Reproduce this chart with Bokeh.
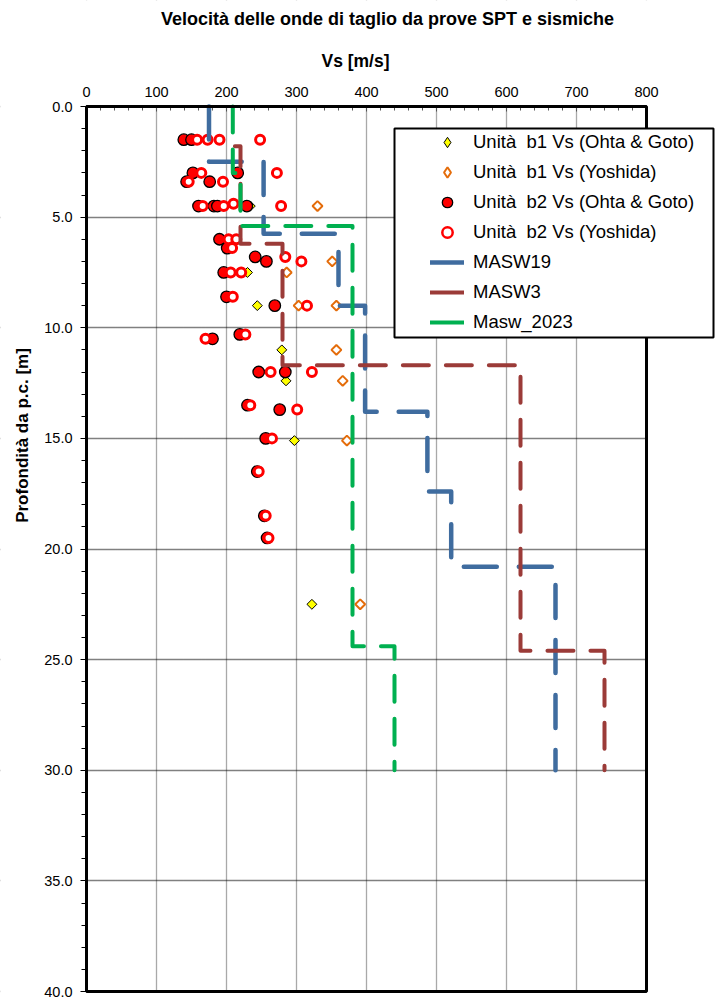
import math
from bokeh.plotting import figure
from bokeh.models import (Range1d, FixedTicker, Legend, LegendItem, Label,
                          BoxAnnotation, NumeralTickFormatter)
from bokeh.embed import file_html
from bokeh.resources import INLINE

# ---------------- data (Vs in m/s, depth in m) ----------------
b1_ohta_vs = [234, 230, 244, 279, 285, 297, 322]
b1_ohta_z = [4.5, 7.5, 9.0, 11.0, 12.4, 15.1, 22.5]

b1_yosh_vs = [330, 351, 286, 357, 303, 357, 366, 372, 391]
b1_yosh_z = [4.5, 7.0, 7.5, 9.0, 9.0, 11.0, 12.4, 15.1, 22.5]

b2_ohta_vs = [139, 150, 152, 216, 143, 176, 160, 182, 187, 229, 190, 201, 241,
              257, 196, 200, 269, 219, 180, 246, 284, 230, 276, 256, 244, 254, 258]
b2_ohta_z = [1.5, 1.5, 3.0, 3.0, 3.4, 3.4, 4.5, 4.5, 4.5, 4.5, 6.0, 6.4, 6.8,
             7.0, 7.5, 8.6, 9.0, 10.3, 10.5, 12.0, 12.0, 13.5, 13.7, 15.0, 16.5, 18.5, 19.5]

b2_yosh_vs = [158, 173, 190, 248, 164, 272, 146, 195, 166, 196, 210, 278, 203,
              214, 208, 284, 307, 206, 221, 209, 315, 227, 170, 263, 322, 234,
              301, 265, 246, 256, 260]
b2_yosh_z = [1.5, 1.5, 1.5, 1.5, 3.0, 3.0, 3.4, 3.4, 4.5, 4.5, 4.4, 4.5, 6.0,
             6.0, 6.4, 6.8, 7.0, 7.5, 7.5, 8.6, 9.0, 10.3, 10.5, 12.0, 12.0, 13.5,
             13.7, 15.0, 16.5, 18.5, 19.5]

masw19_vs = [175, 175, 253, 253, 360, 360, 398, 398, 487, 487, 521, 521, 670, 670]
masw19_z = [0, 2.5, 2.5, 5.75, 5.75, 9.0, 9.0, 13.8, 13.8, 17.4, 17.4, 20.8, 20.8, 30]

masw3_vs = [212, 220, 220, 280, 280, 620, 620, 740, 740]
masw3_z = [1.8, 1.8, 6.2, 6.2, 11.7, 11.7, 24.6, 24.6, 30]

masw2023_vs = [209, 209, 220, 220, 380, 380, 440, 440]
masw2023_z = [0, 3.0, 3.0, 5.4, 5.4, 24.4, 24.4, 30]

x_ticks = [0, 100, 200, 300, 400, 500, 600, 700, 800]
y_ticks = [0, 5, 10, 15, 20, 25, 30, 35, 40]
X_MIN, X_MAX = 0, 800
Z_MIN, Z_MAX = 0, 40

title_text = "Velocità delle onde di taglio da prove SPT e sismiche"
x_title = "Vs [m/s]"
y_title = "Profondità da p.c. [m]"
labels = ["Unità  b1 Vs (Ohta & Goto)", "Unità  b1 Vs (Yoshida)",
          "Unità  b2 Vs (Ohta & Goto)", "Unità  b2 Vs (Yoshida)",
          "MASW19", "MASW3", "Masw_2023"]

FONT = "Liberation Sans"
BLUE, BROWN, GREEN = "#3F6C9F", "#9B3B38", "#00B050"
ORANGE = "#E46C0A"

# ---------------- layout: frame covers the whole canvas ----------------
W, H = 715, 998
PX_L, PX_R, PX_T, PX_B = 86, 646, 106, 991       # plot-area edges in pixels
sx = (PX_R - PX_L) / (X_MAX - X_MIN)
sy = (PX_B - PX_T) / (Z_MAX - Z_MIN)
x_lo = X_MIN - PX_L / sx
x_hi = X_MIN + (W - PX_L) / sx
z_top = Z_MIN - PX_T / sy
z_bot = Z_MIN + (H - PX_T) / sy


def vx(px):
    return X_MIN + (px - PX_L) / sx


def vz(py):
    return Z_MIN + (py - PX_T) / sy


p = figure(width=W, height=H, output_backend="svg", toolbar_location=None,
           x_range=Range1d(x_lo, x_hi), y_range=Range1d(z_bot, z_top),
           x_axis_location="above",
           min_border_left=0, min_border_right=0,
           min_border_top=0, min_border_bottom=0)
p.title.visible = False
p.outline_line_color = None
p.background_fill_color = "white"
p.border_fill_color = "white"

xa = p.xaxis[0]
xa.fixed_location = Z_MIN
xa.bounds = (X_MIN, X_MAX)
xa.ticker = FixedTicker(ticks=x_ticks, minor_ticks=list(range(0, 801, 20)))
xa.major_tick_in = 5
xa.major_tick_out = 0
xa.minor_tick_in = 4
xa.minor_tick_out = 0
xa.axis_line_width = 3
xa.axis_line_color = "black"
xa.major_tick_line_color = "#555555"
xa.minor_tick_line_color = "#555555"
xa.major_label_text_font = FONT
xa.major_label_text_font_size = "14.5px"
xa.major_label_text_color = "black"
xa.major_label_standoff = 10

ya = p.yaxis[0]
ya.fixed_location = X_MIN
ya.bounds = (Z_MIN, Z_MAX)
ya.ticker = FixedTicker(ticks=y_ticks, minor_ticks=list(range(0, 41)))
ya.formatter = NumeralTickFormatter(format="0.0")
ya.major_tick_in = 0
ya.major_tick_out = 6
ya.minor_tick_in = 0
ya.minor_tick_out = 5
ya.axis_line_width = 3
ya.axis_line_color = "black"
ya.major_tick_line_color = "black"
ya.minor_tick_line_color = "black"
ya.major_label_text_font = FONT
ya.major_label_text_font_size = "14.5px"
ya.major_label_text_color = "black"
ya.major_label_standoff = 8

p.xgrid.grid_line_color = "#555555"
p.xgrid.grid_line_dash = "1 1"
p.xgrid.grid_line_width = 1.3
p.ygrid.grid_line_color = "black"
p.ygrid.grid_line_dash = "1 1"
p.ygrid.grid_line_width = 1.3

# white masks so that grid lines stay inside the plot area
big = 1e4
for kw in (dict(left=-big, right=X_MIN, top=-big, bottom=big),
           dict(left=X_MAX, right=big, top=-big, bottom=big),
           dict(left=-big, right=big, top=-big, bottom=Z_MIN),
           dict(left=-big, right=big, top=Z_MAX, bottom=big)):
    p.add_layout(BoxAnnotation(fill_color="white", fill_alpha=1.0, line_alpha=0,
                               level="underlay", **kw))

# ---------------- markers ----------------
r_b1o = p.scatter(b1_ohta_vs, b1_ohta_z, marker="square", angle=math.pi / 4,
                  size=7, fill_color="#FFFF00", line_color="black", line_width=1)
r_b1y = p.scatter(b1_yosh_vs, b1_yosh_z, marker="square", angle=math.pi / 4,
                  size=7, fill_color="white", line_color=ORANGE, line_width=2)
r_b2o = p.scatter(b2_ohta_vs, b2_ohta_z, marker="circle", size=11.5,
                  fill_color="#FF0000", line_color="black", line_width=1.3)
r_b2y = p.scatter(b2_yosh_vs, b2_yosh_z, marker="circle", size=9,
                  fill_color="white", line_color="#FF0000", line_width=3)

# ---------------- MASW profiles ----------------
p.line(masw19_vs, masw19_z, line_color=BLUE, line_width=4.5,
       line_dash="33 22", line_cap="round", line_join="round")
p.line(masw3_vs, masw3_z, line_color=BROWN, line_width=4,
       line_dash="26 17", line_cap="round", line_join="round")
p.line(masw2023_vs, masw2023_z, line_color=GREEN, line_width=4,
       line_dash="26 17", line_cap="round", line_join="round")

# legend swatches (nothing drawn in the plot: NaN data)
nan = [math.nan]
g_b1o = p.scatter(nan, nan, marker="diamond", fill_color="#FFFF00",
                  line_color="black", line_width=1)
g_b1y = p.scatter(nan, nan, marker="diamond", fill_color="white",
                  line_color=ORANGE, line_width=2)
g_b2o = p.scatter(nan, nan, marker="circle", fill_color="#FF0000",
                  line_color="black", line_width=1.3)
g_b2y = p.scatter(nan, nan, marker="circle", fill_color="white",
                  line_color="#FF0000", line_width=2.5)
l19 = p.line(nan, nan, line_color=BLUE, line_width=4.5, line_cap="round")
l3 = p.line(nan, nan, line_color=BROWN, line_width=4, line_cap="round")
l23 = p.line(nan, nan, line_color=GREEN, line_width=4, line_cap="round")

# plot-area border
p.add_layout(BoxAnnotation(left=X_MIN, right=X_MAX, top=Z_MIN, bottom=Z_MAX,
                           fill_alpha=0, line_color="black", line_width=3,
                           line_alpha=1.0))

# ---------------- texts ----------------
p.add_layout(Label(x=vx(387), y=vz(18), text=title_text,
                   text_font=FONT, text_font_size="18px", text_font_style="bold",
                   text_align="center", text_baseline="alphabetic", text_color="black"))
p.add_layout(Label(x=vx(355), y=vz(60), text=x_title,
                   text_font=FONT, text_font_size="17.5px", text_font_style="bold",
                   text_align="center", text_baseline="alphabetic", text_color="black"))
p.add_layout(Label(x=vx(22), y=vz(435), text=y_title, angle=math.pi / 2,
                   text_font=FONT, text_font_size="17px", text_font_style="bold",
                   text_align="center", text_baseline="middle", text_color="black"))

# ---------------- legend ----------------
p.add_layout(BoxAnnotation(left=vx(394), right=vx(713), top=vz(128), bottom=vz(337),
                           fill_color="white", fill_alpha=1.0,
                           line_color="black", line_width=2, line_alpha=1.0))

items = [LegendItem(label=labels[0], renderers=[g_b1o]),
         LegendItem(label=labels[1], renderers=[g_b1y]),
         LegendItem(label=labels[2], renderers=[g_b2o]),
         LegendItem(label=labels[3], renderers=[g_b2y]),
         LegendItem(label=labels[4], renderers=[l19]),
         LegendItem(label=labels[5], renderers=[l3]),
         LegendItem(label=labels[6], renderers=[l23])]
legend = Legend(items=items, location=(428, H - 337), orientation="vertical",
                border_line_alpha=0, background_fill_alpha=0,
                padding=2, spacing=6, margin=0,
                glyph_width=34, glyph_height=26, label_height=26,
                label_standoff=9, label_text_font=FONT,
                label_text_font_size="18.5px", label_text_color="black")
legend.spacing = 4
p.add_layout(legend, "center")

open("out.html", "w").write(file_html(p, INLINE))
